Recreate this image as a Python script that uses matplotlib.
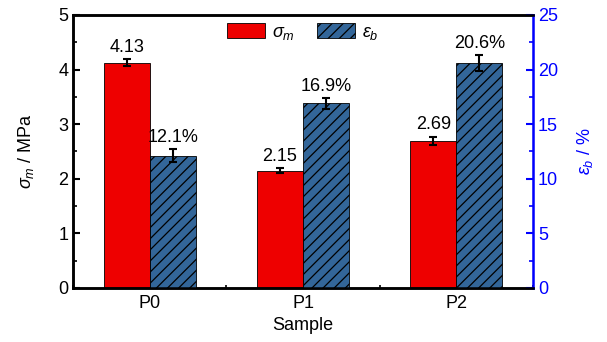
import matplotlib
matplotlib.use("Agg")
import matplotlib.pyplot as plt
from matplotlib.ticker import MultipleLocator
import numpy as np

plt.rcParams['font.family'] = ['Liberation Sans', 'DejaVu Sans']
plt.rcParams['mathtext.fontset'] = 'custom'
plt.rcParams['mathtext.it'] = 'Liberation Sans:italic'
plt.rcParams['mathtext.rm'] = 'Liberation Sans'
plt.rcParams['hatch.linewidth'] = 0.9

samples = ["P0", "P1", "P2"]
strength = [4.13, 2.15, 2.69]          # MPa
strength_err = [0.06, 0.05, 0.08]
elongation = [12.1, 16.9, 20.6]        # %
elongation_err = [0.6, 0.5, 0.7]

red = "#EE0000"
steel = "#336699"
blue = "#0000FF"

fig = plt.figure(figsize=(6.07, 3.42), dpi=100)
ax = fig.add_axes([73/607, 1 - 288/342, 460/607, 273/342])
ax2 = ax.twinx()

x = np.arange(len(samples))
w = 0.3
fs = 13

b1 = ax.bar(x - w/2, strength, w, color=red, edgecolor="black", linewidth=0.6,
            yerr=strength_err, capsize=3, error_kw=dict(elinewidth=1.5, capthick=1.5, ecolor="black"),
            label=r"$\sigma_m$", zorder=2)
b2 = ax2.bar(x + w/2, elongation, w, color=steel, edgecolor="black", linewidth=0.6,
             hatch="///", yerr=elongation_err, capsize=3,
             error_kw=dict(elinewidth=1.5, capthick=1.5, ecolor="black"),
             label=r"$\varepsilon_b$", zorder=2)

for xi, v, e in zip(x, strength, strength_err):
    ax.text(xi - w/2, v + e + 0.06, f"{v:.2f}", ha="center", va="bottom", fontsize=fs)
for xi, v, e in zip(x, elongation, elongation_err):
    ax2.text(xi + w/2, v + e + 0.3, f"{v:.1f}%", ha="center", va="bottom", fontsize=fs)

ax.set_xlim(-0.5, 2.5)
ax.set_ylim(0, 5)
ax2.set_ylim(0, 25)
ax.set_xticks(x)
ax.set_xticklabels(samples, fontsize=fs)
ax.xaxis.set_minor_locator(MultipleLocator(0.5))
ax.yaxis.set_major_locator(MultipleLocator(1))
ax.yaxis.set_minor_locator(MultipleLocator(0.5))
ax2.yaxis.set_major_locator(MultipleLocator(5))
ax2.yaxis.set_minor_locator(MultipleLocator(2.5))

ax.tick_params(axis="both", which="major", direction="in", length=5, width=1.5, labelsize=fs)
ax.tick_params(axis="both", which="minor", direction="in", length=3, width=1.2)
ax.tick_params(axis="x", which="major", length=0, pad=5)
ax.tick_params(axis="x", which="minor", length=2)
ax2.tick_params(axis="y", which="major", direction="in", length=5, width=1.5,
                colors=blue, labelsize=fs)
ax2.tick_params(axis="y", which="minor", direction="in", length=3, width=1.2, colors=blue)

for s in ["left", "bottom", "top"]:
    ax.spines[s].set_linewidth(1.8)
    ax2.spines[s].set_linewidth(1.8)
ax2.spines["right"].set_color(blue)
ax2.spines["right"].set_linewidth(1.8)

ax.set_xlabel("Sample", fontsize=fs, labelpad=4)
ax.set_ylabel(r"$\sigma_m$ / MPa", fontsize=fs, labelpad=16)
ax2.set_ylabel(r"$\varepsilon_b$ / %", fontsize=fs, color=blue, rotation=90, labelpad=12)

leg = ax.legend(handles=[b1, b2], loc="upper center", ncol=2, frameon=False,
                fontsize=fs, handlelength=2.1, handleheight=0.9, columnspacing=1.2,
                handletextpad=0.4, bbox_to_anchor=(0.50, 1.03))

fig.savefig("out.png", dpi=100)
